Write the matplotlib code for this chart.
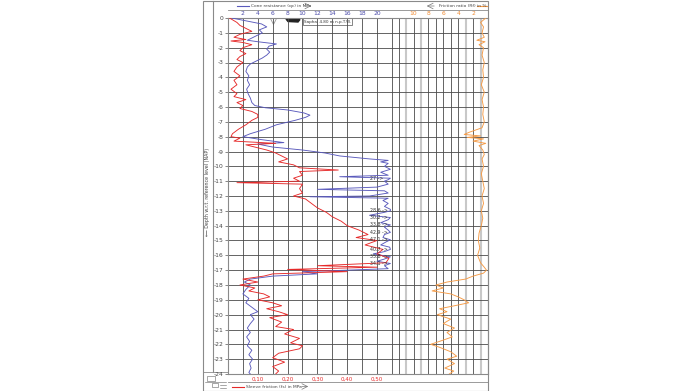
import numpy as np
import matplotlib.pyplot as plt
from matplotlib.patches import Rectangle

plt.rcParams['font.family'] = ['DejaVu Sans']
plt.rcParams['axes.unicode_minus'] = False

# --- data (depth in m w.r.t. NAP) ---
depth_qc = [0, -0.2, -0.4, -0.6, -0.8, -1.0, -1.2, -1.4, -1.5, -1.6, -1.75, -1.9, -2.1, -2.3, -2.5,
            -2.7, -2.9, -3.1, -3.3, -3.6, -3.9, -4.2, -4.5, -4.8, -5.1, -5.4, -5.7, -5.9, -6.05, -6.2,
            -6.4, -6.55, -6.7, -6.9, -7.2, -7.5, -7.8, -8.0, -8.2, -8.4, -8.5, -8.7, -8.9, -9.1, -9.3,
            -9.5, -9.6, -9.7, -9.8, -10.0, -10.2, -10.4, -10.6, -10.7, -10.8, -10.9, -11.0, -11.2, -11.4,
            -11.55, -11.65, -11.8, -12.0, -12.05, -12.15, -12.3, -12.5, -12.7, -12.9, -13.0, -13.1, -13.3,
            -13.45, -13.6, -13.8, -13.95, -14.1, -14.3, -14.45, -14.6, -14.8, -14.95, -15.1, -15.3, -15.45,
            -15.6, -15.75, -15.9, -16.1, -16.25, -16.4, -16.55, -16.7, -16.9, -17.0, -17.1, -17.25, -17.4,
            -17.6, -17.8, -18.0, -18.3, -18.6, -18.9, -19.2, -19.5, -19.8, -20.0, -20.3, -20.6, -20.9,
            -21.2, -21.5, -21.8, -22.1, -22.4, -22.7, -23.0, -23.3, -23.6, -23.9, -24.0]
qc = [0.5, 2.5, 4.5, 5.2, 4.2, 4.6, 3.8, 3.0, 2.6, 4.0, 6.5, 5.5, 5.2, 5.6, 5.2,
      4.6, 3.8, 3.0, 2.6, 2.4, 2.8, 2.6, 2.9, 2.5, 2.7, 3.0, 3.2, 3.6, 5.0, 8.0,
      10.2, 11.0, 10.4, 9.0, 6.5, 5.0, 3.0, 2.0, 4.5, 7.5, 4.0, 6.0, 10.0, 13.0, 15.0,
      19.0, 21.5, 20.5, 21.5, 21.0, 21.8, 20.5, 21.5, 15.0, 27.0, 21.5, 21.0, 21.5, 20.0,
      12.0, 21.0, 21.5, 19.0, 11.0, 21.5, 20.8, 21.5, 21.0, 21.8, 28.6, 21.0, 19.0,
      30.2, 21.5, 20.5, 33.8, 21.0, 21.5, 42.9, 21.0, 20.8, 47.1, 21.2, 20.5, 21.7,
      40.7, 21.0, 19.5, 35.8, 21.0, 20.0, 34.1, 21.0, 21.5, 16.0, 10.0, 12.0, 6.0,
      3.0, 2.2, 3.0, 2.4, 2.0, 2.8, 2.4, 3.2, 4.0, 3.0, 3.5, 3.0, 2.6,
      3.0, 2.5, 2.9, 2.6, 3.2, 2.8, 3.3, 2.9, 3.1, 2.8, 3.0]

depth_fs = [0, -0.3, -0.5, -0.9, -1.1, -1.3, -1.45, -1.55, -1.65, -1.8, -2.0, -2.2, -2.4, -2.6, -2.8,
            -3.0, -3.3, -3.6, -3.9, -4.2, -4.5, -4.8, -5.1, -5.3, -5.5, -5.7, -5.9, -6.1, -6.3, -6.5,
            -6.7, -6.9, -7.2, -7.5, -7.8, -8.0, -8.1, -8.3, -8.45, -8.55, -8.7, -8.9, -9.1, -9.3, -9.5,
            -9.7, -9.9, -10.1, -10.25, -10.35, -10.6, -10.8, -11.0, -11.1, -11.2, -11.5, -11.8, -12.0,
            -12.2, -12.5, -12.8, -13.1, -13.4, -13.7, -14.0, -14.3, -14.6, -14.8, -15.0, -15.3, -15.6,
            -15.9, -16.2, -16.5, -16.7, -16.8, -16.95, -17.1, -17.25, -17.4, -17.6, -17.8, -18.0, -18.2,
            -18.4, -18.6, -18.8, -19.0, -19.2, -19.4, -19.6, -19.8, -20.0, -20.2, -20.5, -20.8, -21.0,
            -21.3, -21.6, -21.9, -22.1, -22.3, -22.6, -22.9, -23.2, -23.5, -23.8, -24.0]
fs = [0.005, 0.03, 0.04, 0.08, 0.04, 0.02, 0.06, 0.01, 0.05, 0.08, 0.05, 0.04, 0.06, 0.04, 0.03,
      0.05, 0.03, 0.02, 0.04, 0.02, 0.03, 0.01, 0.03, 0.02, 0.06, 0.03, 0.05, 0.04, 0.08, 0.10,
      0.10, 0.08, 0.06, 0.035, 0.015, 0.01, 0.04, 0.02, 0.16, 0.06, 0.09, 0.13, 0.16, 0.18, 0.20,
      0.17, 0.22, 0.24, 0.37, 0.24, 0.25, 0.22, 0.24, 0.03, 0.25, 0.24, 0.25, 0.22,
      0.26, 0.28, 0.30, 0.33, 0.35, 0.38, 0.40, 0.44, 0.47, 0.43, 0.50, 0.46, 0.52,
      0.50, 0.54, 0.53, 0.30, 0.50, 0.20, 0.40, 0.15, 0.12, 0.05, 0.10, 0.04, 0.09,
      0.07, 0.12, 0.14, 0.10, 0.15, 0.18, 0.13, 0.17, 0.20, 0.14, 0.18, 0.16, 0.22,
      0.19, 0.24, 0.21, 0.25, 0.24, 0.17, 0.15, 0.19, 0.15, 0.17, 0.16]

depth_rf = [0, -0.3, -0.6, -1.0, -1.3, -1.5, -1.6, -1.8, -2.0, -2.5, -3.0, -3.5, -4.0, -4.5, -5.0,
            -5.5, -6.0, -6.5, -7.0, -7.4, -7.7, -7.85, -7.95, -8.05, -8.15, -8.3, -8.45, -8.6, -8.9,
            -9.2, -9.5, -10.0, -10.5, -11.0, -11.5, -12.0, -12.5, -13.0, -13.5, -14.0, -14.5, -15.0,
            -15.5, -16.0, -16.5, -16.8, -17.0, -17.2, -17.4, -17.6, -17.8, -18.0, -18.2, -18.4, -18.6,
            -18.8, -19.0, -19.2, -19.4, -19.6, -19.8, -20.0, -20.3, -20.6, -20.9, -21.2, -21.5, -21.8,
            -22.0, -22.2, -22.5, -22.8, -23.0, -23.3, -23.6, -23.8, -24.0]
rf = [0.3, 1.0, 0.6, 0.8, 0.5, 1.5, 0.4, 1.2, 0.6, 0.8, 0.5, 0.7, 0.6, 0.9, 0.5,
      0.8, 0.6, 0.7, 0.5, 0.8, 2.5, 3.2, 1.0, 2.8, 0.6, 2.0, 0.3, 1.2, 0.7,
      0.5, 0.8, 0.6, 0.9, 0.7, 0.5, 0.8, 0.6, 0.9, 0.7, 0.9, 1.2, 1.3,
      1.1, 1.4, 1.0, 0.5, 0.2, 0.6, 2.0, 3.0, 5.5, 7.0, 6.0, 7.5, 5.0,
      4.0, 3.2, 2.6, 4.5, 6.5, 5.5, 6.8, 5.0, 6.0, 4.5, 5.5, 4.8, 6.5,
      7.7, 6.5, 5.0, 4.2, 5.5, 4.5, 5.8, 4.6, 5.2]

qc_ticks = [2, 4, 6, 8, 10, 12, 14, 16, 18, 20]
rf_ticks = [10, 8, 6, 4, 2]
fs_ticks = [0.10, 0.20, 0.30, 0.40, 0.50]
depth_ticks = list(range(0, -25, -1))

blue = '#5a5abc'
red = '#e62a2a'
orange = '#f59a45'
gridc = '#4a4a4a'
framec = '#8a8a8a'

W, H = 695, 391
XMAX = 34.9       # right edge of plot in qc units (MPa)
QC_CLIP = 21.8    # qc values above this are clipped and written as text
FS_SCALE = 40.0   # 0.1 MPa sleeve friction = 4 MPa cone resistance

fig = plt.figure(figsize=(6.95, 3.91), dpi=100)

# frame drawn in pixel coordinates
bg = fig.add_axes([0, 0, 1, 1])
bg.set_xlim(0, W)
bg.set_ylim(H, 0)
bg.axis('off')
bg.add_patch(Rectangle((203, 0.5), 285, 390, fill=False, ec=framec, lw=0.8))
bg.plot([213, 213], [0.5, 372], color=framec, lw=0.8)
bg.plot([228, 488], [10, 10], color=framec, lw=0.6)
bg.plot([228, 488], [382, 382], color=framec, lw=0.6)
bg.plot([203, 228], [372, 372], color=framec, lw=0.6)
# small icon box bottom-left
bg.add_patch(Rectangle((207, 376), 8, 5, fill=False, ec='#666', lw=0.4))
bg.add_patch(Rectangle((212, 383), 6, 4, fill=False, ec='#666', lw=0.4))
bg.plot([205, 226], [381.5, 381.5], color='#666', lw=0.4)
bg.plot([220, 226], [385, 385], color='#666', lw=0.4)
bg.plot([220, 226], [388, 388], color='#666', lw=0.4)

# legends top / bottom
bg.plot([237, 249], [6, 6], color=blue, lw=0.8)
bg.text(251, 6, 'Cone resistance (qc) in MPa', fontsize=3.2, va='center', color='#444')
bg.annotate('', xy=(314, 6), xytext=(302, 6),
            arrowprops=dict(arrowstyle='->', lw=0.5, color='#777'))
bg.annotate('', xy=(424, 6), xytext=(437, 6),
            arrowprops=dict(arrowstyle='->', lw=0.5, color='#777'))
bg.text(439, 6, 'Friction ratio (Rf) in %', fontsize=3.2, va='center', color='#444')
bg.plot([477, 487], [6, 6], color=orange, lw=0.8)
bg.plot([232, 244], [386.5, 386.5], color=red, lw=0.8)
bg.text(246, 386.5, 'Sleeve friction (fs) in MPa', fontsize=3.2, va='center', color='#444')
bg.annotate('', xy=(311, 386.5), xytext=(299, 386.5),
            arrowprops=dict(arrowstyle='->', lw=0.5, color='#777'))

bg.text(207.5, 192, '\u27f5 Depth w.r.t. reference level (NAP)', fontsize=3.4,
        rotation=90, ha='center', va='center', color='#444')

# water level / predrill markers and note
bg.plot(273, 21, marker='v', mfc='none', mec='#999', ms=4, mew=0.6)
bg.fill([286, 300, 298, 288], [19, 19.5, 22, 21.5], color='#222')
bg.text(304, 21.5, 'Sapha: 4.80 m n.p.T.W.', fontsize=3, va='center', color='#333',
        bbox=dict(boxstyle='square,pad=0.3', fc='white', ec='#555', lw=0.5))

# main plot
ax = fig.add_axes([228 / W, 1 - 374 / H, (488 - 228) / W, (374 - 18) / H])
ax.set_facecolor('none')
ax.set_xlim(0, XMAX)
ax.set_ylim(-24, 0)

for d in depth_ticks[1:-1]:
    ax.axhline(d, color=gridc, lw=0.6, zorder=1)
for v in range(2, 23, 2):
    ax.axvline(v, color=gridc, lw=0.6, zorder=1)
for r in range(1, 13):
    if r in (1, 3, 9, 11):
        ax.axvline(XMAX - r, color='#c8c8c8', lw=1.5, zorder=0.9)
    else:
        ax.axvline(XMAX - r, color=gridc, lw=0.6, zorder=1)

qc_a = np.array(qc)
fs_a = np.array(fs)
rf_a = np.array(rf)
ax.plot(np.minimum(qc_a, QC_CLIP), depth_qc, color=blue, lw=0.65, zorder=3)
ax.plot(fs_a * FS_SCALE, depth_fs, color=red, lw=0.65, zorder=4)
ax.plot(XMAX - rf_a, depth_rf, color=orange, lw=0.65, zorder=3)

for d, v in zip(depth_qc, qc):
    if v > QC_CLIP:
        ax.text(19.0, d, f'{v:g} ->', fontsize=3.4, va='center', color='#333', zorder=5)

# axis labels
xt = ax.get_xaxis_transform()
for v in qc_ticks:
    ax.text(v, 1.014, str(v), transform=xt, fontsize=4.3, ha='center', va='center',
            color='#4848a8', clip_on=False)
for r in rf_ticks:
    ax.text(XMAX - r, 1.014, str(r), transform=xt, fontsize=4.3, ha='center', va='center',
            color='#f08a30', clip_on=False)
for f in fs_ticks:
    ax.text(f * FS_SCALE, -0.016, f'{f:.2f}'.replace('.', ','), transform=xt, fontsize=4,
            ha='center', va='center', color=red, clip_on=False)

ax.set_xticks([])
ax.set_yticks(depth_ticks)
ax.set_yticklabels([str(d) for d in depth_ticks], fontsize=4.3, color='#444')
ax.tick_params(axis='y', length=2, width=0.5, pad=1, color='#555')
for s in ax.spines.values():
    s.set_color(framec)
    s.set_linewidth(0.8)

fig.savefig('out.png', dpi=100)
